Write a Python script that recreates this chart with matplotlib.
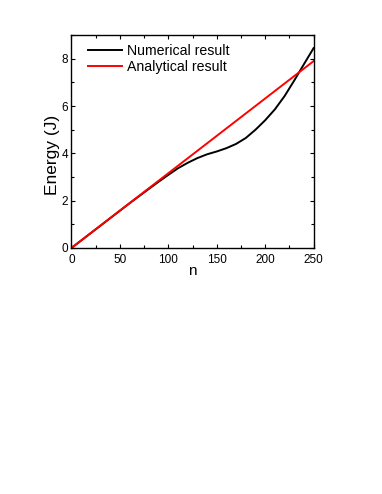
import matplotlib
matplotlib.use("Agg")
import matplotlib.pyplot as plt
from matplotlib.ticker import MultipleLocator

plt.rcParams['font.family'] = ['Liberation Sans', 'DejaVu Sans']

n_num = [0, 20, 40, 60, 80, 90, 100, 110, 120, 130, 140, 150, 160, 170, 180, 190, 200, 210, 220, 230, 240, 250]
e_num = [0, 0.63, 1.26, 1.89, 2.50, 2.80, 3.09, 3.37, 3.60, 3.80, 3.96, 4.08, 4.22, 4.40, 4.65, 5.00, 5.40, 5.86, 6.42, 7.08, 7.77, 8.45]
n_ana = [0, 250]
e_ana = [0, 7.9]

fig = plt.figure(figsize=(3.82, 4.94), dpi=100)
ax = fig.add_axes([0.187, 0.498, 0.634, 0.431])
ax.plot(n_num, e_num, color='black', lw=1.4, label='Numerical result')
ax.plot(n_ana, e_ana, color='red', lw=1.4, label='Analytical result')
ax.set_xlim(0, 250)
ax.set_ylim(0, 9)
ax.xaxis.set_major_locator(MultipleLocator(50))
ax.xaxis.set_minor_locator(MultipleLocator(25))
ax.yaxis.set_major_locator(MultipleLocator(2))
ax.yaxis.set_minor_locator(MultipleLocator(1))
ax.tick_params(which='both', direction='in', top=True, right=True, labelsize=8.5)
ax.tick_params(axis='x', pad=4)
ax.tick_params(axis='y', pad=2.5)
ax.tick_params(which='major', length=3, width=0.8)
ax.tick_params(which='minor', length=2, width=0.8)
for s in ax.spines.values():
    s.set_linewidth(1.0)
ax.set_xlabel('n', fontsize=11, labelpad=-1)
ax.set_ylabel('Energy (J)', fontsize=12.5)
ax.yaxis.set_label_coords(-0.046, 0.437)
ax.legend(loc='upper left', frameon=False, fontsize=10.2, handlelength=2.4,
          handletextpad=0.35, borderaxespad=0.1, borderpad=0.3,
          labelspacing=0.15, bbox_to_anchor=(0.045, 0.985))
fig.savefig('out.png', dpi=100)
